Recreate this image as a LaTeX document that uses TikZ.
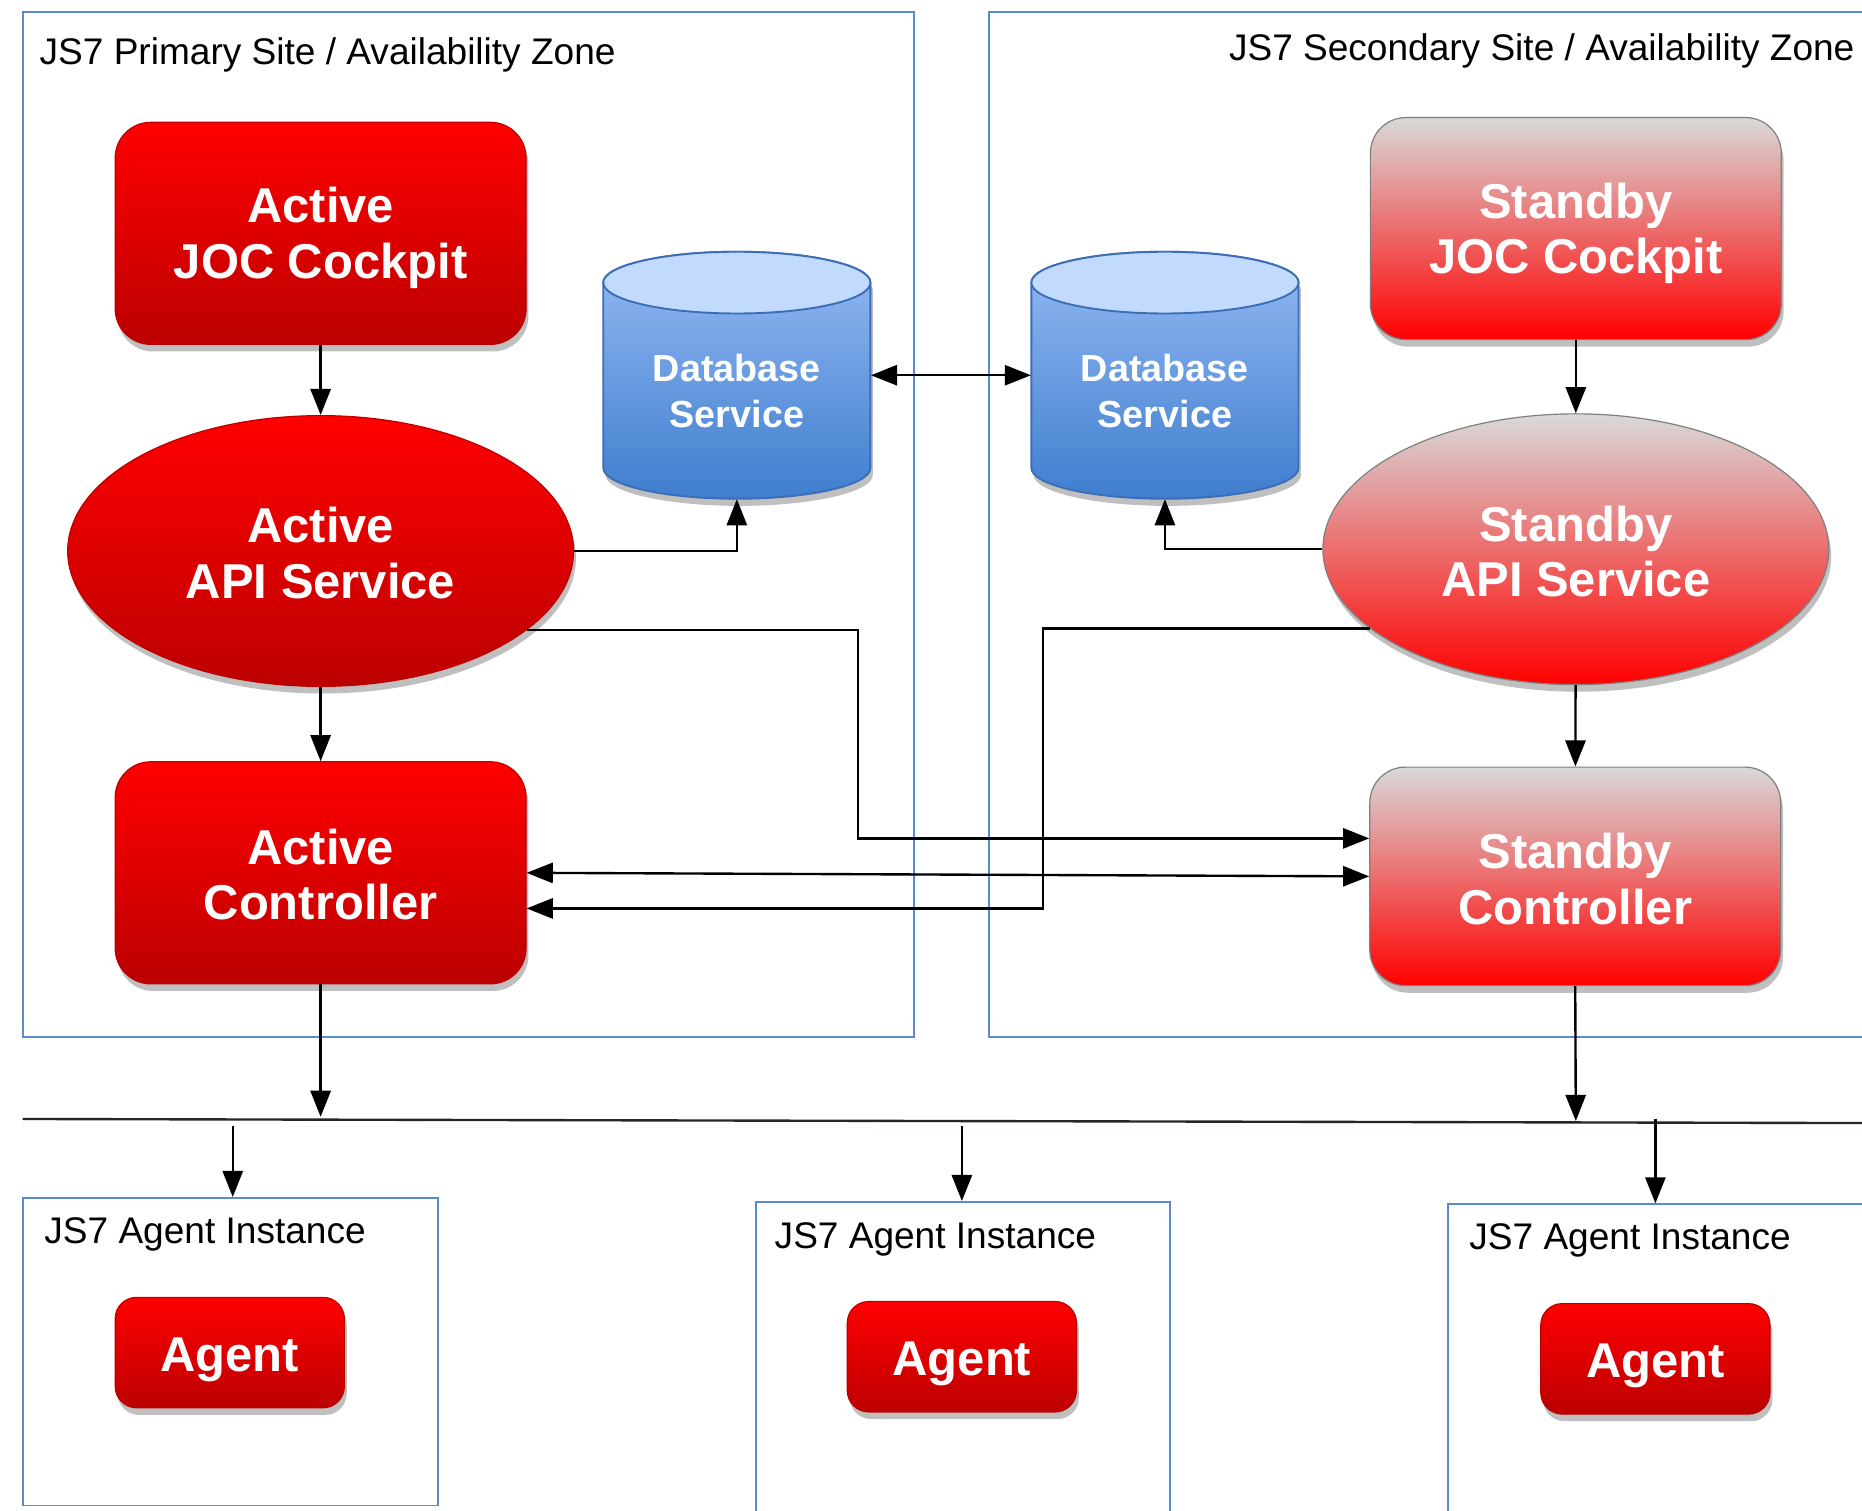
\documentclass[tikz,border=0pt]{standalone}
\usepackage{fontspec}
\setmainfont{Liberation Sans}
\usetikzlibrary{arrows.meta,shapes.geometric,shadows,calc}
\definecolor{redtop}{HTML}{FF0000}
\definecolor{redbot}{HTML}{BC0000}
\definecolor{graytop}{HTML}{D9D9D9}
\definecolor{grayline}{HTML}{7F7F7F}
\definecolor{sitecol}{HTML}{5B8BCB}
\definecolor{dbtop}{HTML}{95BAF4}
\definecolor{dbbot}{HTML}{3F7ECE}
\definecolor{dbcap}{HTML}{C2DAFE}
\definecolor{dbline}{HTML}{3B6EB6}
\begin{document}
\begin{tikzpicture}[x=0.5pt,y=-0.5pt,
  shadowed/.style={drop shadow={shadow xshift=1pt,shadow yshift=-3pt,opacity=0.25,fill=black}},
  bigfont/.style={font=\fontsize{20.6}{23.5}\selectfont\bfseries},
  bigtext/.style={text=white, bigfont, align=center, inner sep=0pt},
  txt/.style 2 args={label={[bigtext,yshift=-#1]center:{#2}}},
  activebox/.style={rectangle, rounded corners=15pt, minimum width=173pt, minimum height=93.5pt,
     top color=redtop, bottom color=redbot, draw=redbot, line width=0.5pt, shadowed, inner sep=0pt},
  standbybox/.style={activebox, top color=graytop, bottom color=redtop, draw=grayline},
  activeell/.style={ellipse, minimum width=213pt, minimum height=114pt, inner sep=0pt,
     top color=redtop, bottom color=redbot, draw=redbot, line width=0.5pt, shadowed},
  standbyell/.style={activeell, top color=graytop, bottom color=redtop, draw=grayline},
  agentbox/.style={activebox, rounded corners=9pt, minimum width=96.5pt, minimum height=46.5pt},
  dbtext/.style={text=white, font=\fontsize{15.9}{19.5}\selectfont\bfseries, align=center},
  dbhold/.style={rectangle, inner sep=0pt, minimum width=112.5pt, minimum height=104pt},
  sitebox/.style={draw=sitecol, line width=0.8pt},
  title/.style={font=\fontsize{15.6}{18}\selectfont, inner sep=0pt},
  arr/.style={line width=1pt, -{Triangle[length=11pt,width=8.5pt]}},
  darr/.style={line width=1pt, {Triangle[length=11pt,width=8.5pt]}-{Triangle[length=11pt,width=8.5pt]}},
]
\useasboundingbox (0,0) rectangle (1568,1272);
\clip (0,0) rectangle (1568,1272);
\fill[white] (0,0) rectangle (1568,1272);

% site boxes
\draw[sitebox] (19,10) rectangle (770,873);
\draw[sitebox] (833,10) rectangle (1600,873);
\node[title, anchor=base west] (t1) at (33,54) {JS7 Primary Site / Availability Zone};
\node[title, anchor=base east] (t2) at (1562,51) {JS7 Secondary Site / Availability Zone};

% databases
\foreach \cx/\nm in {620.5/db1, 981/db2} {
  \shade[top color=dbtop, bottom color=dbbot, draw=dbline, line width=0.8pt, shadowed]
    (\cx-112.5,238) -- (\cx-112.5,394)
    arc[start angle=180, end angle=0, x radius=112.5, y radius=26]
    -- (\cx+112.5,238)
    arc[start angle=0, end angle=-180, x radius=112.5, y radius=26] -- cycle;
  \filldraw[fill=dbcap, draw=dbline, line width=0.8pt] (\cx,238) ellipse[x radius=112.5, y radius=26];
  \node[dbhold] (\nm) at (\cx,316) {};
  \node[dbtext] (\nm t) at (\cx,329) {Database\\Service};
}

% main nodes
\node[activebox, txt={2pt}{Active\\JOC Cockpit}] (ajoc) at (270,196.5) {};
\node[activeell, txt={1pt}{Active\\API Service}] (aapi) at (270,464) {};
\node[activebox, txt={0.7pt}{Active\\Controller}] (actl) at (270,735) {};
\node[standbybox, txt={2pt}{Standby\\JOC Cockpit}] (sjoc) at (1327,192.5) {};
\node[standbyell, txt={1pt}{Standby\\API Service}] (sapi) at (1327,462.5) {};
\node[standbybox, minimum height=92pt, txt={1pt}{Standby\\Controller}] (sctl) at (1326.5,738) {};

% network line
\coordinate (netL) at (19,942.3);
\coordinate (netR) at (1600,945.8);
\draw[line width=1pt, black!85, drop shadow={shadow xshift=0pt,shadow yshift=-3pt,opacity=0.15,fill=black}] (netL) -- (netR);
\coordinate (n1) at (270,940.5);
\coordinate (n2) at (1327,944);
\coordinate (n3) at (196,948);
\coordinate (n4) at (810,948);
\coordinate (n5) at (1394,942);

% agent instances
\node[sitebox, rectangle, minimum width=175pt, minimum height=129.5pt, inner sep=0pt] (box1) at (194,1138.3) {};
\node[sitebox, rectangle, minimum width=174pt, minimum height=140pt, inner sep=0pt] (box2) at (811,1152.2) {};
\node[sitebox, rectangle, minimum width=190pt, minimum height=140pt, inner sep=0pt] (box3) at (1409,1154.2) {};
\node[title, anchor=base west] (bt1) at (37,1047) {JS7 Agent Instance};
\node[title, anchor=base west] (bt2) at (652,1051.2) {JS7 Agent Instance};
\node[title, anchor=base west] (bt3) at (1237,1052.6) {JS7 Agent Instance};
\node[agentbox, txt={3pt}{Agent}] (ag1) at (193.5,1139) {};
\node[agentbox, txt={3pt}{Agent}] (ag2) at (810,1142.5) {};
\node[agentbox, txt={3pt}{Agent}] (ag3) at (1394,1144.3) {};

% connectors
\draw[arr] (ajoc) -- (aapi);
\draw[arr] (aapi) -- (actl);
\draw[arr] (sjoc) -- (sapi);
\draw[arr] (sapi) -- (sctl);
\draw[arr] (aapi.east) -| (db1.south);
\draw[arr] (sapi.west) -| (db2.south);
\draw[darr] (db1.east) -- (db2.west);
\draw[arr] (aapi.-21.5) -- ++(279,0) |- ([yshift=16pt]sctl.west);
\draw[darr] (actl.east) -- (sctl.west);
\draw[arr] (sapi.201.8) -- ++(-275,0) |- ([yshift=-15pt]actl.east);
\draw[arr] (actl.south) -- (n1);
\draw[arr] (sctl.south) -- (n2);
\draw[arr] (n3) -- (n3 |- box1.north);
\draw[arr] (n4) -- (n4 |- box2.north);
\draw[arr] (n5) -- (n5 |- box3.north);
\end{tikzpicture}
\end{document}
